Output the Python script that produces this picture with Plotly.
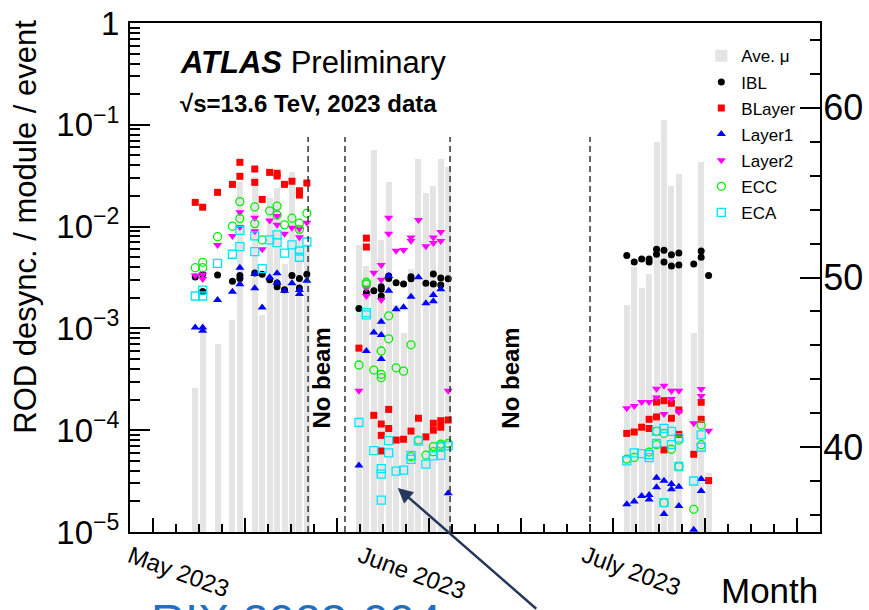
import plotly.graph_objects as go
import pandas as pd

# ---------------- data ----------------
mu_days = ["2023-05-09", "2023-05-10", "2023-05-12", "2023-05-14", "2023-05-15", "2023-05-17",
           "2023-05-18", "2023-05-19", "2023-05-20", "2023-05-21", "2023-05-22", "2023-05-23",
           "2023-05-24",
           "2023-05-31", "2023-06-01", "2023-06-02", "2023-06-03", "2023-06-04", "2023-06-05",
           "2023-06-06", "2023-06-07", "2023-06-08", "2023-06-09", "2023-06-10", "2023-06-11",
           "2023-06-12",
           "2023-07-06", "2023-07-07", "2023-07-08", "2023-07-09", "2023-07-10", "2023-07-11",
           "2023-07-12", "2023-07-13", "2023-07-15", "2023-07-16", "2023-07-17"]
mu_vals = [43.5, 46.7, 46.1, 47.5, 55.6, 55.9, 47.8, 54.7, 55.3, 50.8, 56.2, 53.0, 52.0,
           51.9, 50.7, 57.5, 52.2, 55.6, 48.4, 46.7, 50.5, 57.0, 55.0, 55.4, 57.0, 56.5,
           48.4, 50.6, 49.4, 50.2, 58.0, 59.3, 55.4, 56.1, 46.7, 56.8, 38.5]

ibl = {"05-09": [3.2e-3], "05-10": [3.4e-3, 2.3e-3], "05-12": [3.35e-3], "05-14": [2.9e-3],
       "05-15": [3.3e-3, 3.1e-3], "05-17": [3.5e-3], "05-18": [3.4e-3], "05-19": [3.0e-3],
       "05-20": [2.8e-3, 2.57e-3], "05-21": [2.4e-3], "05-22": [3.3e-3], "05-23": [3.1e-3, 2.5e-3],
       "05-24": [3.4e-3],
       "05-31": [1.57e-3], "06-01": [2.24e-3], "06-02": [2.35e-3], "06-03": [2.57e-3, 2.42e-3, 2.08e-3],
       "06-04": [3.27e-3, 3.1e-3], "06-05": [2.81e-3], "06-06": [2.73e-3], "06-07": [3.22e-3, 3.08e-3],
       "06-09": [2.77e-3], "06-10": [3.42e-3, 2.73e-3], "06-11": [3.13e-3, 2.67e-3], "06-12": [3.08e-3],
       "07-06": [5.2e-3], "07-07": [4.5e-3], "07-08": [4.8e-3], "07-09": [4.8e-3, 4.5e-3],
       "07-10": [6.0e-3, 5.35e-3], "07-11": [5.85e-3, 4.5e-3], "07-12": [5.3e-3, 4.1e-3],
       "07-13": [5.5e-3, 4.2e-3], "07-15": [4.3e-3], "07-16": [5.76e-3, 5.0e-3], "07-17": [3.3e-3]}

blayer = {"05-09": [0.0173], "05-10": [0.0155], "05-12": [0.0217], "05-14": [0.026],
          "05-15": [0.0428, 0.0312], "05-17": [0.0368, 0.0272], "05-18": [0.0185], "05-19": [0.0341],
          "05-20": [0.0334, 0.0314], "05-21": [0.026], "05-22": [0.0279], "05-23": [0.0225, 0.0204],
          "05-24": [0.0268],
          "05-31": [6.4e-4], "06-01": [7.7e-3, 6.3e-3], "06-02": [1.4e-4],
          "06-03": [1.15e-4, 8.9e-5, 6.25e-5], "06-04": [1.6e-4, 1.04e-4], "06-05": [8.0e-5],
          "06-06": [8.15e-5], "06-07": [9.8e-5], "06-08": [1.31e-4], "06-09": [8.6e-5],
          "06-10": [1.17e-4, 1.0e-4], "06-11": [1.24e-4, 1.07e-4], "06-12": [1.26e-4],
          "07-06": [9.3e-5], "07-07": [9.6e-5], "07-08": [1.07e-4], "07-09": [1.28e-4, 1.04e-4],
          "07-10": [1.89e-4, 1.35e-4], "07-11": [1.95e-4, 6.4e-5], "07-12": [1.84e-4, 1.31e-4],
          "07-13": [1.58e-4, 9.1e-5], "07-15": [5.8e-5], "07-16": [1.88e-4, 1.28e-4], "07-17": [3.2e-5]}

layer1 = {"05-09": [1.02e-3], "05-10": [1.02e-3, 9.5e-4], "05-12": [1.9e-3], "05-14": [2.29e-3],
          "05-15": [3.95e-3, 2.71e-3], "05-17": [3.42e-3, 2.48e-3], "05-18": [1.6e-3], "05-19": [3.18e-3],
          "05-20": [3.48e-3, 2.81e-3], "05-21": [2.35e-3], "05-22": [2.77e-3], "05-23": [2.38e-3, 2.18e-3],
          "05-24": [2.94e-3],
          "05-31": [4.5e-5], "06-01": [6.0e-4], "06-02": [9.1e-4], "06-03": [1.16e-3, 8.6e-4, 5.0e-4],
          "06-04": [3.27e-3, 2.35e-3], "06-05": [1.54e-3], "06-06": [1.61e-3], "06-07": [2.05e-3],
          "06-08": [3.18e-3], "06-09": [1.77e-3], "06-10": [2.13e-3, 1.85e-3], "06-11": [2.42e-3],
          "06-12": [2.4e-5],
          "07-06": [1.87e-5], "07-07": [1.99e-5], "07-08": [2.26e-5], "07-09": [2.31e-5, 2.09e-5],
          "07-10": [3.41e-5, 2.75e-5], "07-11": [3.19e-5, 1.5e-5], "07-12": [2.96e-5, 2.63e-5],
          "07-13": [2.79e-5, 1.8e-5], "07-15": [1.05e-5], "07-16": [3.32e-5, 2.53e-5]}

layer2 = {"05-09": [3.3e-3], "05-10": [3.38e-3, 3.05e-3], "05-12": [6.6e-3], "05-14": [8.1e-3],
          "05-15": [0.0138, 9.9e-3], "05-17": [0.0122, 9.0e-3], "05-18": [6.0e-3], "05-19": [0.0115],
          "05-20": [0.0127, 0.0104], "05-21": [8.5e-3], "05-22": [9.75e-3], "05-23": [9.5e-3, 7.85e-3],
          "05-24": [0.0109],
          "05-31": [2.44e-4], "06-01": [2.48e-3, 2.08e-3], "06-02": [3.53e-3],
          "06-03": [4.2e-3, 3.0e-3, 1.9e-3], "06-04": [0.0122, 8.5e-3], "06-05": [5.8e-3],
          "06-06": [5.9e-3], "06-07": [7.8e-3, 7.2e-3], "06-08": [0.0116], "06-09": [6.4e-3],
          "06-10": [7.8e-3, 6.9e-3], "06-11": [8.85e-3, 7.2e-3], "06-12": [2.44e-4],
          "07-06": [1.64e-4], "07-07": [1.73e-4], "07-08": [1.89e-4], "07-09": [1.89e-4],
          "07-10": [2.56e-4, 2.1e-4], "07-11": [2.74e-4, 1.44e-4], "07-12": [2.44e-4, 2.02e-4],
          "07-13": [2.44e-4, 1.51e-4], "07-15": [1.17e-4], "07-16": [2.54e-4, 2.17e-4], "07-17": [9.9e-5]}

ecc = {"05-09": [3.95e-3], "05-10": [4.46e-3, 3.95e-3], "05-12": [7.96e-3], "05-14": [0.0101],
       "05-15": [0.0176, 0.012], "05-17": [0.0156, 0.0107], "05-18": [7.4e-3], "05-19": [0.0143],
       "05-20": [0.0159, 0.013], "05-21": [0.0104], "05-22": [0.0121], "05-23": [0.0108, 9.4e-3],
       "05-24": [0.0135],
       "05-31": [4.37e-4], "06-01": [2.84e-3, 2.73e-3], "06-02": [3.9e-4],
       "06-03": [6.0e-4, 3.54e-4, 3.28e-4], "06-04": [1.33e-3, 7.9e-4], "06-05": [4.1e-4],
       "06-06": [3.8e-4], "06-07": [6.9e-4, 5.5e-5], "06-08": [8.0e-5], "06-09": [5.7e-5],
       "06-10": [6.9e-5, 6.15e-5], "06-11": [7.3e-5, 6.9e-5], "06-12": [7.4e-5],
       "07-06": [5.2e-5], "07-07": [5.4e-5], "07-09": [6.1e-5], "07-10": [9.75e-5, 7.2e-5],
       "07-11": [9.3e-5, 1.94e-5], "07-12": [6.5e-5], "07-13": [8.0e-5, 4.4e-5], "07-15": [1.67e-5],
       "07-16": [1.12e-4, 7.2e-5]}

eca = {"05-09": [2.08e-3], "05-10": [2.38e-3, 2.08e-3], "05-12": [4.36e-3], "05-14": [5.35e-3],
       "05-15": [9.2e-3, 6.35e-3], "05-17": [8.1e-3, 5.67e-3], "05-18": [3.86e-3], "05-19": [7.4e-3],
       "05-20": [8.3e-3, 6.95e-3], "05-21": [5.5e-3], "05-22": [6.6e-3], "05-23": [5.76e-3, 5.0e-3],
       "05-24": [7.06e-3],
       "05-31": [1.19e-4], "06-01": [1.43e-3, 1.36e-3], "06-02": [6.3e-5],
       "06-03": [4.2e-5, 3.7e-5, 2.06e-5], "06-04": [7.9e-5, 6.0e-5], "06-05": [3.97e-5],
       "06-06": [4.06e-5], "06-07": [5.66e-5, 5.18e-5], "06-08": [7.8e-5], "06-09": [4.65e-5],
       "06-10": [5.6e-5], "06-11": [7.0e-5, 5.66e-5], "06-12": [7.0e-5],
       "07-06": [5.0e-5], "07-07": [6.0e-5], "07-08": [5.9e-5], "07-09": [5.74e-5, 5.37e-5],
       "07-10": [9.75e-5, 7.4e-5], "07-11": [1.04e-4, 1.94e-5], "07-12": [9.75e-5, 7.2e-5],
       "07-13": [8.4e-5, 4.4e-5], "07-15": [3.17e-5], "07-16": [9.0e-5, 6.8e-5]}

nobeam_lines = ["2023-05-24 16:00", "2023-05-29 15:00", "2023-06-12 18:00", "2023-07-01 13:30"]
month_ticks = ["2023-05-01", "2023-06-01", "2023-07-01"]
month_labels = ["May 2023", "June 2023", "July 2023"]
log_tickvals = [1e-5, 1e-4, 1e-3, 1e-2, 1e-1, 1]
log_ticktext = ["10<sup>\u22125</sup>", "10<sup>\u22124</sup>", "10<sup>\u22123</sup>",
                "10<sup>\u22122</sup>", "10<sup>\u22121</sup>", "1"]
mu_tickvals = [40, 50, 60]


def expand(d):
    xs, ys = [], []
    for k, vs in d.items():
        for v in vs:
            xs.append("2023-" + k)
            ys.append(v)
    return xs, ys


DAY = 86400000
FONT = "Liberation Sans, Arial, Helvetica, sans-serif"

fig = go.Figure()
fig.add_trace(go.Bar(
    x=mu_days, y=mu_vals, xperiod=DAY, xperiodalignment="middle", width=0.8 * DAY,
    marker=dict(color="#e4e4e4", line=dict(width=0)), name="Ave. \u03bc",
    yaxis="y", legendgroup="g0"))

series = [
    ("IBL", ibl, dict(symbol="circle", size=7, color="black")),
    ("BLayer", blayer, dict(symbol="square", size=7, color="#ff0000")),
    ("Layer1", layer1, dict(symbol="triangle-up", size=8, color="#0000ff")),
    ("Layer2", layer2, dict(symbol="triangle-down", size=8, color="#ff00ff")),
    ("ECC", ecc, dict(symbol="circle-open", size=8, color="#00ee00", line=dict(width=1.3))),
    ("ECA", eca, dict(symbol="square-open", size=8, color="#00e5ff", line=dict(width=1.3))),
]
for i, (nm, d, mk) in enumerate(series):
    xs, ys = expand(d)
    fig.add_trace(go.Scatter(x=xs, y=ys, mode="markers", name=nm, marker=mk,
                             xperiod=DAY, xperiodalignment="middle",
                             yaxis="y2", legendgroup="g%d" % (i + 1)))

# axis geometry (ticks like the ROOT frame)
R0 = pd.Timestamp("2023-04-30 17:33")
R1 = pd.Timestamp("2023-08-01 11:17")
span = R1 - R0
minor_x = [R0 + span * k / 30 for k in range(31)]
major_x = [R0 + span * (1 + 4 * k) / 30 for k in range(8)]
minor_log = [m * 10 ** e for e in range(-5, 0) for m in range(2, 10)]

fig.update_layout(
    width=869, height=610,
    margin=dict(l=130, r=49, t=23, b=78, autoexpand=False),
    paper_bgcolor="white", plot_bgcolor="white",
    font=dict(family=FONT, color="black"),
    barmode="overlay", bargap=0,
    showlegend=True,
    legend=dict(x=0.828, y=0.97, xanchor="left", yanchor="top", bgcolor="rgba(0,0,0,0)",
                font=dict(size=17, family=FONT), tracegroupgap=1, itemwidth=30),
    xaxis=dict(type="date", range=[R0, R1], showgrid=False, zeroline=False, automargin=False,
               showline=True, linecolor="black", linewidth=2, mirror=True,
               ticks="inside", ticklen=14, tickwidth=1.5, tickcolor="black",
               tickmode="array", tickvals=major_x, showticklabels=False,
               minor=dict(tickmode="array", tickvals=minor_x, ticks="inside", ticklen=8,
                          tickcolor="black", tickwidth=1.5)),
    yaxis=dict(range=[35, 65], side="right", showgrid=False, zeroline=False, automargin=False,
               showline=True, linecolor="black", linewidth=2,
               ticks="inside", ticklen=20, tickwidth=1.5, tickcolor="black",
               tickmode="array", tickvals=mu_tickvals, tickfont=dict(size=36, family=FONT),
               ticklabelstandoff=-6,
               minor=dict(dtick=2, tick0=0, ticks="inside", ticklen=10, tickcolor="black", tickwidth=1.5)),
    yaxis2=dict(type="log", range=[-5, 0], overlaying="y", side="left", showgrid=False,
                zeroline=False, showline=True, linecolor="black", linewidth=2, automargin=False,
                ticks="inside", ticklen=20, tickwidth=1.5, tickcolor="black",
                tickmode="array", tickvals=log_tickvals, ticktext=log_ticktext,
                tickfont=dict(size=33, family=FONT), ticklabelstandoff=2,
                minor=dict(tickmode="array", tickvals=minor_log, ticks="inside", ticklen=10,
                           tickcolor="black", tickwidth=1.5)),
)

shapes = []
for d in nobeam_lines:
    shapes.append(dict(type="line", xref="x", yref="paper", x0=d, x1=d, y0=0, y1=0.776,
                       line=dict(color="#333333", width=1.5, dash="6px,4px"), layer="above"))
fig.update_layout(shapes=shapes)

ann = [
    dict(text="<b><i>ATLAS</i></b> Preliminary", x=0.0696, y=0.923, xref="paper", yref="paper",
         xanchor="left", yanchor="middle", showarrow=False, font=dict(size=31, family=FONT)),
    dict(text="<b>\u221as=13.6 TeV, 2023 data</b>", x=0.0696, y=0.841, xref="paper", yref="paper",
         xanchor="left", yanchor="middle", showarrow=False, font=dict(size=24, family=FONT)),
    dict(text="<b>No beam</b>", x=0.278, y=0.303, xref="paper", yref="paper", textangle=-90,
         xanchor="center", yanchor="middle",
         showarrow=False, font=dict(size=24, family=FONT)),
    dict(text="<b>No beam</b>", x=0.552, y=0.303, xref="paper", yref="paper", textangle=-90,
         xanchor="center", yanchor="middle",
         showarrow=False, font=dict(size=24, family=FONT)),
    dict(text="ROD desync. / module / event", x=-0.152, y=0.6, xref="paper", yref="paper",
         xanchor="center", yanchor="middle",
         textangle=-90, showarrow=False, font=dict(size=31, family=FONT)),
    dict(text="Month", x=1.0, y=-0.115, xref="paper", yref="paper", xanchor="right",
         yanchor="middle", showarrow=False, font=dict(size=35, family=FONT)),
    dict(text="RIX 2023-004", x=0.027, y=-0.118, xref="paper", yref="paper", xanchor="left",
         yanchor="top", showarrow=False, font=dict(size=47, family=FONT, color="#1f6fc2")),
    dict(text="", x=0.388, y=0.0864, xref="paper", yref="paper", showarrow=True,
         ax=140, ay=135, axref="pixel", ayref="pixel", arrowcolor="#25375a", arrowwidth=2.5,
         arrowhead=2, arrowsize=1.2, standoff=0),
]
for d, lab in zip(month_ticks, month_labels):
    ann.append(dict(text=lab, x=d, y=0, xref="x", yref="paper", xanchor="left", yanchor="top",
                    textangle=20, showarrow=False, xshift=-10, yshift=-6,
                    font=dict(size=24, family=FONT)))
fig.update_layout(annotations=ann)

fig.write_html("out.html")
